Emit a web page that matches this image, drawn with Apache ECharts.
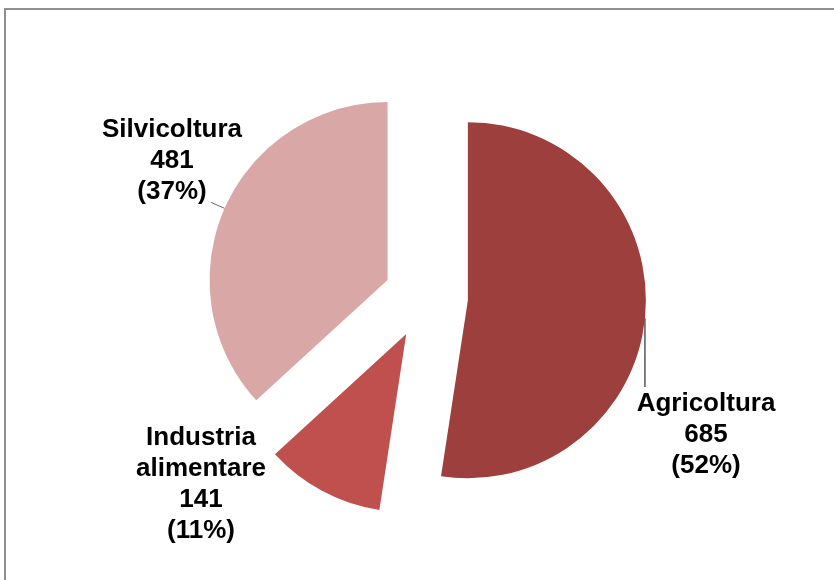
<!DOCTYPE html>
<html>
<head>
<meta charset="utf-8">
<script src="https://cdn.jsdelivr.net/npm/echarts@6/dist/echarts.min.js"></script>
<style>
  html, body { margin: 0; padding: 0; background: #fff; }
  #chart { width: 834px; height: 580px; }
</style>
</head>
<body>
<div id="chart"></div>
<script>
// dati
const categories = ['Agricoltura', 'Industria alimentare', 'Silvicoltura']
const values = [685, 141, 481]
const colors = ['#9c3f3d', '#c0504d', '#d9a7a6']

// etichette: centro orizzontale e bordo superiore del testo
const labelPos = [[706, 388], [201, 422], [172, 114]]
const lineColors = ['#000', null, '#666']

const center = [426, 297]
const radius = 178
const explode = 42

const chart = echarts.init(document.getElementById('chart'))

const total = values.reduce((a, b) => a + b, 0)
const pt = (c, ang, r) => [c[0] + r * Math.sin(ang), c[1] - r * Math.cos(ang)]

let cum = 0
const series = values.map((v, k) => {
  // spicchio esploso: una serie per spicchio, centro spostato lungo la bisettrice
  const mid = 2 * Math.PI * (cum + v / 2) / total
  cum += v
  const c = pt(center, mid, explode)

  // linee di richiamo
  let linePts = null
  if (k === 0) {
    const a = pt(c, mid + 1.5 * Math.PI / 180, radius)
    linePts = [a, [a[0], (a[1] + labelPos[k][1]) / 2], [a[0], labelPos[k][1] - 1]]
  } else if (k === 2) {
    const a = pt(c, mid, radius)
    const b = pt(c, mid, radius + 15)
    linePts = [a, b, b]
  }

  return {
    type: 'pie',
    silent: true,
    center: c,
    radius: radius,
    startAngle: 90,
    clockwise: true,
    avoidLabelOverlap: false,
    emphasis: { disabled: true },
    label: {
      position: 'outside',
      fontFamily: 'Liberation Sans, Arial, sans-serif',
      fontWeight: 'bold',
      fontSize: 26,
      lineHeight: 31,
      color: '#000',
      formatter: p => p.name.replace(' ', '\n') + '\n' + p.value + '\n(' + Math.round(p.percent) + '%)'
    },
    labelLayout: p => {
      if (p.dataIndex !== k) return {}
      const o = { x: labelPos[k][0], y: labelPos[k][1], align: 'center', verticalAlign: 'top' }
      if (linePts) o.labelLinePoints = linePts
      return o
    },
    data: categories.map((name, i) => ({
      name: name,
      value: values[i],
      itemStyle: { color: i === k ? colors[i] : 'rgba(0,0,0,0)' },
      label: { show: i === k },
      labelLine: {
        show: i === k && lineColors[i] !== null,
        lineStyle: { color: lineColors[i] || '#000', width: 1 }
      }
    }))
  }
})

chart.setOption({
  animation: false,
  graphic: [{
    type: 'rect',
    shape: { x: 5, y: 9, width: 900, height: 700 },
    style: { fill: 'none', stroke: '#8f8f8f', lineWidth: 2 },
    silent: true
  }],
  series: series
})
</script>
</body>
</html>
